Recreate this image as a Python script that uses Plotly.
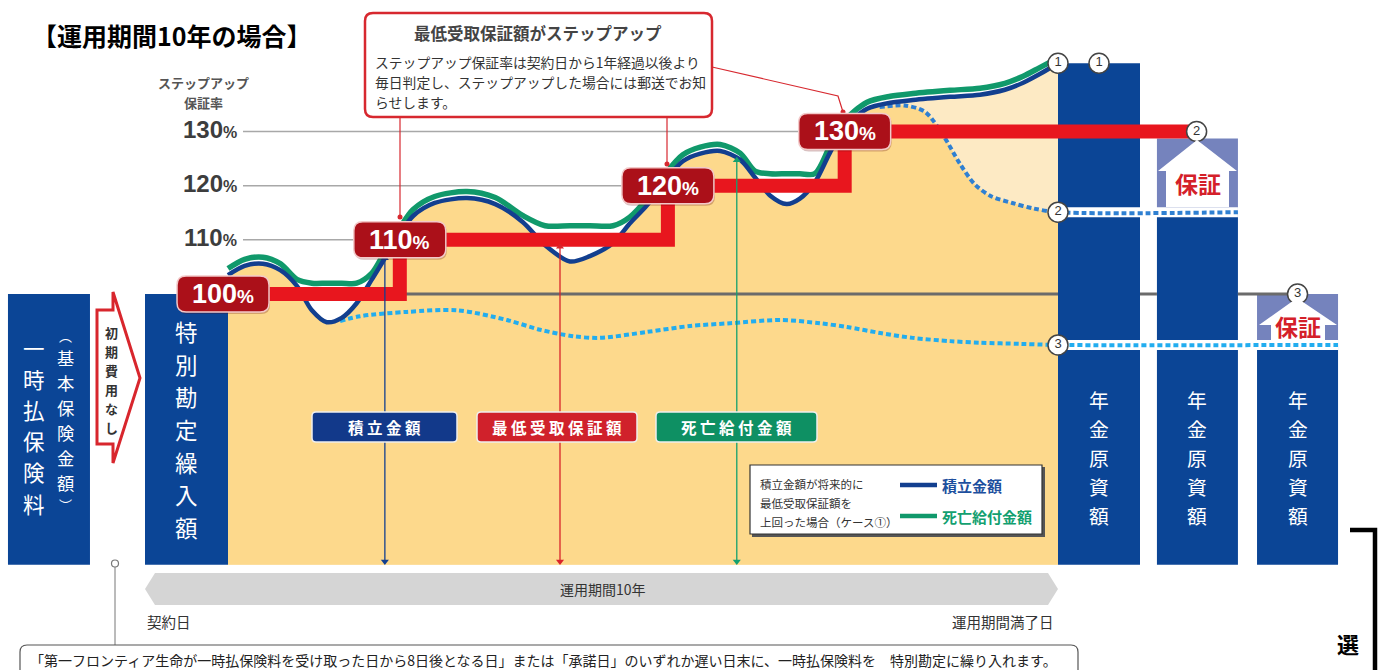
import plotly.graph_objects as go

W, H = 1388, 670
FONT_JP = "Noto Sans CJK JP"
FONT_NUM = "Liberation Sans"

# ---------------- data (years since contract, % of premium) ----------------
years = [0, 0.2, 0.42, 0.63, 0.83, 1.01, 1.19, 1.37, 1.55, 1.73, 1.89, 2.07, 2.23, 2.49,
         2.88, 3.22, 3.55, 3.82, 4.12, 4.36, 4.64, 4.84, 5.05, 5.27, 5.48, 5.69, 5.93,
         6.17, 6.35, 6.53, 6.73, 6.89, 7.07, 7.25, 7.43, 7.70, 7.98, 8.25, 8.70, 9.06,
         9.36, 9.58, 9.78, 10.0]
accum_rate = [103.5, 105.2, 105.6, 104.4, 101.5, 97.0, 94.8, 95.6, 98.3, 102.6, 106.6,
              111.0, 114.4, 116.8, 117.7, 116.6, 113.3, 109.0, 106.0, 107.0, 109.4, 113.0,
              116.4, 121.0, 124.5, 125.9, 126.4, 124.8, 121.5, 118.2, 116.6, 117.6, 120.6,
              126.0, 130.8, 134.2, 135.3, 135.8, 136.4, 136.8, 137.7, 139.0, 140.6, 142.6]
death_rate = [104.7, 106.4, 106.8, 105.6, 102.7, 102.0, 102.0, 102.0, 102.0, 103.8, 107.8,
              112.2, 115.6, 118.0, 118.9, 117.8, 114.5, 112.6, 112.6, 112.6, 112.6, 114.2,
              117.6, 122.2, 125.7, 127.1, 127.6, 126.0, 122.7, 122.2, 122.2, 122.2, 122.2,
              127.2, 132.0, 135.4, 136.5, 137.0, 137.6, 138.0, 138.9, 140.2, 141.8, 143.6]
case2_years = [7.85, 8.15, 8.4, 8.62, 8.82, 9.0, 9.2, 9.45, 9.7, 10.0]
case2_rate = [134.5, 134.8, 133.6, 129.2, 124.0, 120.2, 118.0, 116.8, 115.8, 115.1]
case3_years = [1.35, 1.59, 2.16, 2.76, 3.36, 3.76, 4.16, 4.48, 5.05, 5.57, 6.05, 6.65,
               7.13, 7.46, 7.86, 8.25, 8.70, 9.06, 9.54, 10.0]
case3_rate = [95.0, 95.9, 96.7, 97.0, 95.2, 93.4, 92.2, 91.9, 93.0, 94.1, 94.6, 95.2,
              94.6, 93.9, 92.8, 91.9, 91.3, 91.0, 90.8, 90.6]
step_years = [0, 2.07, 5.3, 7.43]
step_rates = [100, 110, 120, 130]
step_labels = ["100", "110", "120", "130"]
step_end_year = 11.67
tick_rates = [130, 120, 110]
tick_labels = ["130", "120", "110"]
bar_names = ["一時払保険料", "特別勘定繰入額", "年金原資額", "年金原資額", "年金原資額"]
bar_values = [100, 100, 142.6, 115.1, 90.6]
guarantee_values = [None, None, None, 128.7, 100]
base_rate = 50
arrow_years = [1.89, 4.0, 6.13]
arrow_tops = [106.6, 108.7, 124.7]
arrow_names = ["積立金額", "最低受取保証額", "死亡給付金額"]

# ---------------- layout geometry ----------------
X0_PX, PX_PER_YEAR = 228, 83
Y100_PX, PX_PER_PCT = 294, 5.417
bar_x = [-2.157, -0.5, 10.494, 11.68, 12.886]
bar_w = [0.988, 1.0, 0.988, 0.976, 0.976]
x_range = [-X0_PX / PX_PER_YEAR, (W - X0_PX) / PX_PER_YEAR]
y_range = [100 - (H - Y100_PX) / PX_PER_PCT, 100 + Y100_PX / PX_PER_PCT]


def xpx(year):
    return X0_PX + year * PX_PER_YEAR


def ypx(rate):
    return Y100_PX - (rate - 100) * PX_PER_PCT


def PX(px):
    return px / W


def PY(py):
    return 1 - py / H


NAVY = "#0b4596"
LILAC = "#7583bd"
YELLOW = "#fdd98c"
YELLOW_LIGHT = "#fdeac4"
RED = "#e8161e"
BLUE = "#123f8f"
GREEN = "#10996b"
DOT2 = "#2f80d2"
DOT3 = "#22adef"
GRAY = "#6b6b6b"

fig = go.Figure()

# bars
fig.add_trace(go.Bar(x=bar_x, y=[v - base_rate for v in bar_values], base=base_rate,
                     width=bar_w, marker=dict(color=NAVY, line=dict(width=0)),
                     hoverinfo="skip"))
gx = [bar_x[i] for i, g in enumerate(guarantee_values) if g is not None]
gw = [bar_w[i] for i, g in enumerate(guarantee_values) if g is not None]
gb = [bar_values[i] for i, g in enumerate(guarantee_values) if g is not None]
gt = [g for g in guarantee_values if g is not None]
fig.add_trace(go.Bar(x=gx, y=[t - b for t, b in zip(gt, gb)], base=gb, width=gw,
                     marker=dict(color=LILAC, line=dict(width=0)), hoverinfo="skip"))

SM = 0.85
# light yellow under accumulation curve
fig.add_trace(go.Scatter(x=[years[0], years[-1]], y=[base_rate, base_rate], mode="lines",
                         line=dict(width=0), hoverinfo="skip"))
fig.add_trace(go.Scatter(x=years, y=accum_rate, mode="lines", fill="tonexty",
                         fillcolor=YELLOW_LIGHT, line=dict(width=0, shape="spline", smoothing=SM),
                         hoverinfo="skip"))
# normal yellow under envelope (accumulation until case-2 branch, then case 2)
env_x = [x for x in years if x < case2_years[0]] + case2_years
env_y = [y for x, y in zip(years, accum_rate) if x < case2_years[0]] + case2_rate
fig.add_trace(go.Scatter(x=[years[0], years[-1]], y=[base_rate, base_rate], mode="lines",
                         line=dict(width=0), hoverinfo="skip"))
fig.add_trace(go.Scatter(x=env_x, y=env_y, mode="lines", fill="tonexty", fillcolor=YELLOW,
                         line=dict(width=0, shape="spline", smoothing=SM), hoverinfo="skip"))

# gray 100% line (visible between bars)
r = [bx + w / 2 for bx, w in zip(bar_x, bar_w)]
l = [bx - w / 2 for bx, w in zip(bar_x, bar_w)]
fig.add_trace(go.Scatter(x=[0, years[-1], None, r[2], l[3], None, r[3], bar_x[4]],
                         y=[100, 100, None, 100, 100, None, 100, 100], mode="lines",
                         line=dict(color=GRAY, width=3), hoverinfo="skip"))

# white underlay for the dotted extensions on the bars
fig.add_trace(go.Scatter(x=[case2_years[-1], r[3], None, case3_years[-1], r[4]],
                         y=[case2_rate[-1], case2_rate[-1], None, case3_rate[-1], case3_rate[-1]],
                         mode="lines", line=dict(color="white", width=10), hoverinfo="skip"))
# dotted cases
fig.add_trace(go.Scatter(x=case3_years + [r[4]], y=case3_rate + [case3_rate[-1]], mode="lines",
                         line=dict(color=DOT3, width=4, dash="5px,3px", shape="spline",
                                   smoothing=SM), hoverinfo="skip"))
fig.add_trace(go.Scatter(x=case2_years + [r[3]], y=case2_rate + [case2_rate[-1]], mode="lines",
                         line=dict(color=DOT2, width=4, dash="5px,3px", shape="spline",
                                   smoothing=SM), hoverinfo="skip"))
# death benefit & accumulation
fig.add_trace(go.Scatter(x=years, y=death_rate, mode="lines",
                         line=dict(color=GREEN, width=5.5, shape="spline", smoothing=SM),
                         hoverinfo="skip"))
fig.add_trace(go.Scatter(x=years, y=accum_rate, mode="lines",
                         line=dict(color=BLUE, width=4.5, shape="spline", smoothing=SM),
                         hoverinfo="skip"))
# minimum guarantee step line
fig.add_trace(go.Scatter(x=step_years + [step_end_year], y=step_rates + [step_rates[-1]],
                         mode="lines", line=dict(color=RED, width=14, shape="hv"),
                         hoverinfo="skip"))
# vertical double arrows
for xa, top, col in zip(arrow_years, arrow_tops, [BLUE, "#d9242b", "#14a06f"]):
    fig.add_trace(go.Scatter(x=[xa, xa], y=[top, base_rate + 0.6], mode="lines+markers",
                             line=dict(color=col, width=1.3),
                             marker=dict(symbol=["triangle-up", "triangle-down"], size=7,
                                         color=col), hoverinfo="skip"))
# numbered circles
circ_x = [years[-1], bar_x[2], step_end_year, case2_years[-1], bar_x[4], case3_years[-1]]
circ_y = [accum_rate[-1], bar_values[2], step_rates[-1], case2_rate[-1], guarantee_values[4],
          case3_rate[-1]]
circ_t = ["1", "1", "2", "2", "3", "3"]
fig.add_trace(go.Scatter(x=circ_x, y=circ_y, mode="markers+text", text=circ_t,
                         textposition="middle center",
                         textfont=dict(family=FONT_NUM, size=13, color="#333"),
                         marker=dict(size=20, color="white", line=dict(color="#444", width=1.5)),
                         hoverinfo="skip"))


# ---------------- shapes ----------------
def rrect(x0, y0, x1, y1, rad):
    rx, ry = rad, rad
    return (f"M{PX(x0 + rx)},{PY(y0)} L{PX(x1 - rx)},{PY(y0)} Q{PX(x1)},{PY(y0)} {PX(x1)},{PY(y0 + ry)} "
            f"L{PX(x1)},{PY(y1 - ry)} Q{PX(x1)},{PY(y1)} {PX(x1 - rx)},{PY(y1)} "
            f"L{PX(x0 + rx)},{PY(y1)} Q{PX(x0)},{PY(y1)} {PX(x0)},{PY(y1 - ry)} "
            f"L{PX(x0)},{PY(y0 + ry)} Q{PX(x0)},{PY(y0)} {PX(x0 + rx)},{PY(y0)} Z")


def poly(pts):
    return "M" + " L".join(f"{PX(a)},{PY(b)}" for a, b in pts) + " Z"


def pline(pts):
    return "M" + " L".join(f"{PX(a)},{PY(b)}" for a, b in pts)


shapes = []
P = dict(xref="paper", yref="paper")
# grid lines to the step labels
box_w, box_h = 92, 36
label_years = [-0.06] + step_years[1:]
for rate, ly in zip(tick_rates, [label_years[3], label_years[2], label_years[1]]):
    shapes.append(dict(type="line", x0=PX(243), x1=PX(xpx(ly) - box_w / 2), y0=PY(ypx(rate)),
                       y1=PY(ypx(rate)), line=dict(color="#a8a8a8", width=1.5), layer="below", **P))
# callout box
shapes.append(dict(type="path", path=rrect(365, 13, 712, 117, 8), fillcolor="white",
                   line=dict(color="#d7282f", width=2.5), **P))
for pts in [[(400, 117), (400, 217)], [(667, 117), (667, 164)],
            [(712, 67), (838, 96), (843, 112)]]:
    shapes.append(dict(type="path", path=pline(pts), line=dict(color="#d7282f", width=1.2), **P))
for cx, cy in [(400, 217), (667, 164), (843, 112)]:
    shapes.append(dict(type="circle", x0=PX(cx - 2.5), x1=PX(cx + 2.5), y0=PY(cy - 2.5),
                       y1=PY(cy + 2.5), fillcolor="#d7282f", line=dict(width=0), **P))
# red % boxes
for ly, rate in zip(label_years, step_rates):
    cx, cy = xpx(ly), ypx(rate)
    shapes.append(dict(type="path", path=rrect(cx - box_w / 2 + 1, cy - box_h / 2 + 2,
                                               cx + box_w / 2 + 1, cy + box_h / 2 + 2, 9),
                       fillcolor="rgba(90,0,0,0.25)", line=dict(width=0), **P))
    shapes.append(dict(type="path", path=rrect(cx - box_w / 2, cy - box_h / 2,
                                               cx + box_w / 2, cy + box_h / 2, 9),
                       fillcolor="#ab1019", line=dict(color="#f3c9c9", width=1.5), **P))
# label boxes on the arrows
lab_boxes = [(312, 457, "#12398a"), (477, 637, "#d0212b"), (656, 817, "#0e9063")]
for (x0, x1, col) in lab_boxes:
    shapes.append(dict(type="path", path=rrect(x0, 412, x1, 442, 4), fillcolor=col,
                       line=dict(color="#eeeeee", width=1.5), **P))
# legend box
shapes.append(dict(type="rect", x0=PX(752), x1=PX(1045), y0=PY(467), y1=PY(537),
                   fillcolor="#555", line=dict(width=0), **P))
shapes.append(dict(type="rect", x0=PX(750), x1=PX(1042), y0=PY(465), y1=PY(534),
                   fillcolor="white", line=dict(color="#333", width=1.2), **P))
shapes.append(dict(type="line", x0=PX(900), x1=PX(937), y0=PY(485), y1=PY(485),
                   line=dict(color=BLUE, width=4.5), **P))
shapes.append(dict(type="line", x0=PX(900), x1=PX(937), y0=PY(516), y1=PY(516),
                   line=dict(color=GREEN, width=4.5), **P))
# 初期費用なし arrow
shapes.append(dict(type="path", path=poly([(97, 310), (113, 310), (113, 292), (140, 378),
                                           (113, 463), (113, 444), (97, 444)]),
                   fillcolor="white", line=dict(color="#d8262d", width=3), **P))
# white up-arrows in guarantee boxes
shapes.append(dict(type="path", path=poly([(1197, 140), (1237, 171), (1229, 171), (1229, 207),
                                           (1166, 207), (1166, 171), (1158, 171)]),
                   fillcolor="white", line=dict(width=0), **P))
shapes.append(dict(type="path", path=poly([(1297, 298), (1337, 325), (1325, 325), (1325, 342),
                                           (1271, 342), (1271, 325), (1259, 325)]),
                   fillcolor="white", line=dict(width=0), **P))
# period band
shapes.append(dict(type="path", path=poly([(145, 589), (155, 573), (1048, 573), (1058, 589),
                                           (1048, 605), (155, 605)]),
                   fillcolor="#d5d5d5", line=dict(width=0), **P))
# connector & bottom note box
shapes.append(dict(type="line", x0=PX(115), x1=PX(115), y0=PY(567), y1=PY(645),
                   line=dict(color="#777", width=1), **P))
shapes.append(dict(type="circle", x0=PX(111.5), x1=PX(118.5), y0=PY(560), y1=PY(567),
                   fillcolor="white", line=dict(color="#777", width=1.2), **P))
shapes.append(dict(type="path", path=rrect(20, 645, 1078, 690, 7), fillcolor="white",
                   line=dict(color="#555", width=1.2), **P))
# bracket
shapes.append(dict(type="path", path=pline([(1350, 530), (1375, 530), (1375, 680)]),
                   line=dict(color="black", width=4.5), **P))

# ---------------- annotations ----------------
ann = []


def txt(text, x, y, size, color="#333", xanchor="center", yanchor="middle", family=FONT_JP):
    ann.append(dict(text=text, x=PX(x), y=PY(y), xref="paper", yref="paper", xanchor=xanchor,
                    yanchor=yanchor, showarrow=False, align="center",
                    font=dict(size=size, color=color, family=family)))


def vcol(s, x, y_first, y_last, size, color, bold=False):
    n = len(s)
    step = (y_last - y_first) / (n - 1)
    for i, ch in enumerate(s):
        txt(f"<b>{ch}</b>" if bold else ch, x, y_first + i * step, size, color)


txt("<b>【運用期間10年の場合】</b>", 30, 35, 25, "#000", xanchor="left")
txt("<b>ステップアップ</b>", 203, 82, 13, "#555")
txt("<b>保証率</b>", 203, 102, 13, "#555")
for rate, lab in zip(tick_rates, tick_labels):
    txt(f"<b>{lab}</b><span style='font-size:16px'><b>%</b></span>", 239, ypx(rate) - 2, 24,
        "#3d3d3d", xanchor="right", family=FONT_NUM)
for ly, rate, lab in zip(label_years, step_rates, step_labels):
    txt(f"<b>{lab}</b><span style='font-size:19px'><b>%</b></span>", xpx(ly), ypx(rate), 27,
        "white", family=FONT_NUM)
# callout text
txt("<b>最低受取保証額がステップアップ</b>", 538, 33, 16.5, "#444")
txt("ステップアップ保証率は契約日から1年経過以後より", 373, 62, 13.8, "#333", xanchor="left")
txt("毎日判定し、ステップアップした場合には郵送でお知", 373, 82, 13.8, "#333", xanchor="left")
txt("らせします。", 373, 102, 13.8, "#333", xanchor="left")
# label box texts
for (x0, x1, _), name in zip(lab_boxes, arrow_names):
    txt("<b>" + " ".join(list(name)) + "</b>", (x0 + x1) / 2, 427, 15.5, "white")
# legend texts
txt("積立金額が将来的に", 758, 484, 11.5, "#333", xanchor="left")
txt("最低受取保証額を", 758, 503, 11.5, "#333", xanchor="left")
txt("上回った場合（ケース①）", 758, 522, 11.5, "#333", xanchor="left")
txt("<b>積立金額</b>", 940, 485, 15, "#1d4f9e", xanchor="left")
txt("<b>死亡給付金額</b>", 940, 516, 15, "#13a070", xanchor="left")
# bar texts (vertical, one character per line)
vcol(bar_names[0], 34, 347, 503, 21.5, "white")
txt("︵", 65, 335, 13, "white")
vcol("基本保険金額", 65, 357, 483, 17.3, "white")
txt("︶", 65, 505, 13, "white")
vcol("初期費用なし", 111, 332, 427, 13, "#333", bold=True)
vcol(bar_names[1], 186, 331, 527, 22.5, "white")
for i in (2, 3, 4):
    vcol(bar_names[i], xpx(bar_x[i]), 400, 515, 19.8, "white")
txt("<b>保証</b>", 1198, 183, 23, "#d42029")
txt("<b>保証</b>", 1298, 326, 23, "#d42029")
# bottom texts
txt("運用期間10年", 603, 589, 14, "#333")
txt("契約日", 145, 621, 14.5, "#333", xanchor="left")
txt("運用期間満了日", 1056, 621, 14.5, "#333", xanchor="right")
txt("「第一フロンティア生命が一時払保険料を受け取った日から8日後となる日」または「承諾日」"
    "のいずれか遅い日末に、一時払保険料を　特別勘定に繰り入れます。", 28, 659.5, 14, "#222",
    xanchor="left")
txt("<b>選</b>", 1348, 643, 22, "#000")

fig.update_layout(
    width=W, height=H, margin=dict(l=0, r=0, t=0, b=0),
    paper_bgcolor="white", plot_bgcolor="white", showlegend=False, hovermode=False,
    barmode="overlay",
    xaxis=dict(range=x_range, visible=False, fixedrange=True),
    yaxis=dict(range=y_range, visible=False, fixedrange=True),
    shapes=shapes, annotations=ann,
)

fig.write_html("out.html", config={"displayModeBar": False},
               post_script="document.body.style.margin='0';document.body.style.overflow='hidden';")
